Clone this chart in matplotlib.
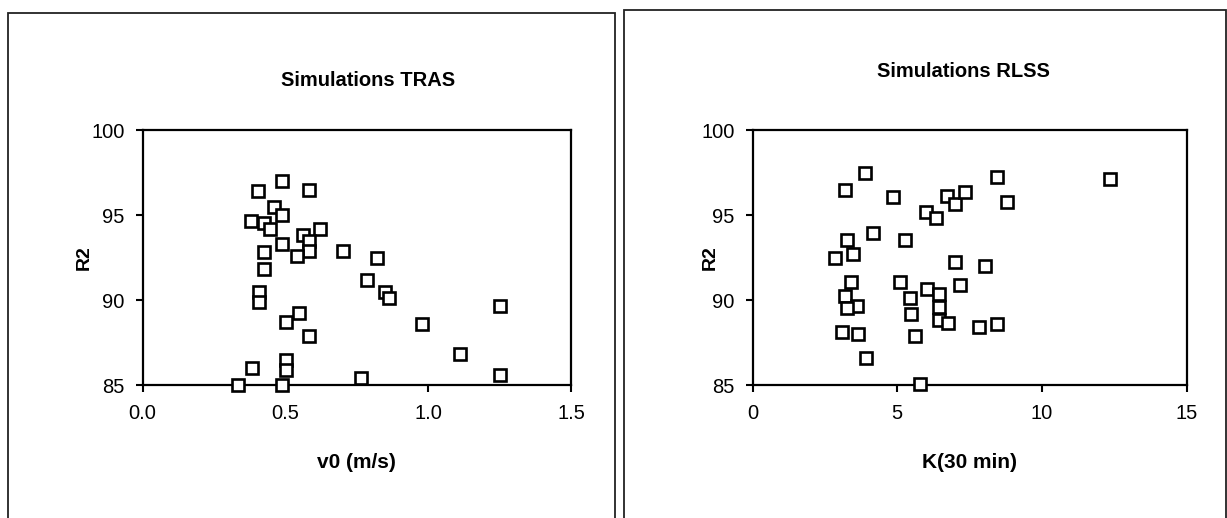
import matplotlib
matplotlib.use("Agg")
import matplotlib.pyplot as plt
from matplotlib.patches import Rectangle

plt.rcParams['font.family'] = ['Liberation Sans', 'DejaVu Sans']

# ---- data: Simulations TRAS ----
tras_v0 = [0.487, 0.405, 0.581, 0.460, 0.487, 0.380, 0.425, 0.446, 0.621, 0.563,
           0.581, 0.489, 0.583, 0.540, 0.700, 0.425, 0.822, 0.425, 0.785, 0.849,
           0.863, 0.408, 0.408, 0.549, 0.501, 0.583, 0.978, 0.501, 0.501, 0.382,
           0.335, 0.489, 0.764, 1.252, 1.110, 1.252]
tras_r2 = [97.0, 96.4, 96.5, 95.5, 95.0, 94.66, 94.55, 94.2, 94.2, 93.8,
           93.5, 93.3, 92.9, 92.6, 92.9, 92.8, 92.45, 91.8, 91.2, 90.5,
           90.1, 90.5, 89.9, 89.25, 88.7, 87.9, 88.6, 86.5, 85.9, 86.0,
           85.0, 85.0, 85.4, 89.65, 86.8, 85.6]

# ---- data: Simulations RLSS ----
rlss_k = [3.89, 3.20, 4.84, 6.00, 6.35, 6.72, 6.98, 7.33, 8.45, 8.80,
          4.15, 3.26, 3.47, 2.85, 5.28, 6.98, 8.04, 7.18, 3.41, 5.10,
          6.03, 6.43, 3.18, 5.43, 3.61, 3.26, 6.43, 5.48, 6.43, 6.74,
          3.09, 3.63, 5.62, 7.84, 8.45, 3.92, 5.80, 12.34]
rlss_r2 = [97.5, 96.47, 96.08, 95.19, 94.8, 96.12, 95.63, 96.37, 97.22, 95.75,
           93.96, 93.53, 92.69, 92.49, 93.53, 92.25, 92.02, 90.88, 91.04, 91.04,
           90.63, 90.35, 90.25, 90.10, 89.66, 89.55, 89.61, 89.18, 88.82, 88.63,
           88.10, 88.0, 87.88, 88.43, 88.59, 86.57, 85.06, 97.1]

W, H = 1227, 518
fig = plt.figure(figsize=(W / 100, H / 100), dpi=100)

# panel frames
fig.patches.append(Rectangle((8 / W, -0.05), (615 - 8) / W, (H - 13) / H + 0.05,
                             transform=fig.transFigure, fill=False,
                             edgecolor='#222222', linewidth=1.3))
fig.patches.append(Rectangle((624 / W, -0.05), (1226 - 624) / W, (H - 10) / H + 0.05,
                             transform=fig.transFigure, fill=False,
                             edgecolor='#222222', linewidth=1.3))

def make_axes(x0, x1, xdata, ydata, xlim, xticks, xticklabels, title, xlabel,
              title_x, title_y, ylabel_x):
    ax = fig.add_axes([x0 / W, (H - 385) / H, (x1 - x0) / W, 255 / H])
    ax.plot(xdata, ydata, linestyle='none', marker='s', markersize=8.5,
            markerfacecolor='white', markeredgecolor='black',
            markeredgewidth=1.9, clip_on=False, zorder=3)
    ax.set_xlim(*xlim)
    ax.set_ylim(85, 100)
    ax.set_xticks(xticks)
    ax.set_xticklabels(xticklabels)
    ax.set_yticks([85, 90, 95, 100])
    for s in ax.spines.values():
        s.set_linewidth(1.6)
        s.set_color('black')
    ax.tick_params(axis='both', direction='out', length=5, width=1.5,
                   labelsize=14.5, colors='black')
    ax.tick_params(axis='x', pad=9)
    ax.tick_params(axis='y', pad=8)
    fig.text(title_x / W, 1 - title_y / H, title, ha='center', va='center',
             fontsize=14.5, fontweight='bold')
    fig.text((x0 + x1) / 2 / W, 1 - 462 / H, xlabel, ha='center', va='center',
             fontsize=15, fontweight='bold')
    fig.text(ylabel_x / W, 1 - 258 / H, 'R2', ha='center', va='center',
             rotation=90, fontsize=14, fontweight='bold')
    return ax

make_axes(142.6, 571, tras_v0, tras_r2, (0, 1.5), [0, 0.5, 1.0, 1.5],
          ['0.0', '0.5', '1.0', '1.5'], 'Simulations TRAS', 'v0 (m/s)',
          368, 80, 84)
make_axes(752.5, 1186.7, rlss_k, rlss_r2, (0, 15), [0, 5, 10, 15],
          ['0', '5', '10', '15'], 'Simulations RLSS', 'K(30 min)',
          963, 72, 710)

fig.savefig('out.png', dpi=100, facecolor='white')
